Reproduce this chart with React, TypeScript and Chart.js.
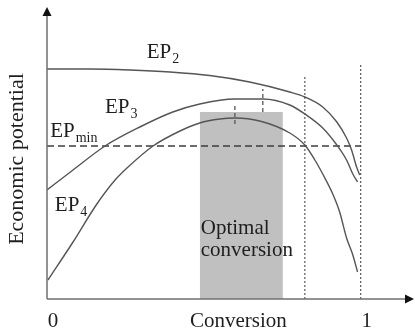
import React, { useEffect, useRef } from 'react';
import { Chart, registerables } from 'chart.js';

Chart.register(...registerables);

// ---- data (conversion 0..1, economic potential in arbitrary units) ----
const ep2Conversion = [0, 0.137, 0.264, 0.392, 0.519, 0.646, 0.774, 0.822, 0.879, 0.924, 0.955, 0.971, 0.987, 0.997];
const ep2Value = [230, 230, 229, 227, 223.5, 217, 207, 202, 192, 177, 161, 149, 132, 124];

const ep3Conversion = [0, 0.083, 0.185, 0.296, 0.401, 0.487, 0.599, 0.688, 0.774, 0.822, 0.879, 0.924, 0.955, 0.975, 0.99];
const ep3Value = [109, 129, 153, 172, 187, 195, 200, 200, 194, 185, 171, 154, 139, 125, 117];

const ep4Conversion = [0.003, 0.083, 0.159, 0.217, 0.255, 0.338, 0.424, 0.487, 0.551, 0.599, 0.678, 0.774, 0.822, 0.854, 0.879, 0.911, 0.933, 0.955, 0.975, 0.99];
const ep4Value = [19, 57, 95, 119, 131, 153, 168, 176, 180, 181, 178, 166, 154, 139, 125, 105, 87, 61, 44, 27];

const epMinConversion = [0, 1];
const epMinValue = [153, 153];

const optimalConversion = [0.487, 0.752];
const optimalValue = [187, 187];

const limitConversionA = [0.822, 0.822];
const limitValueA = [0, 224];
const limitConversionB = [1, 1];
const limitValueB = [0, 236];

const peakMarkerEP4Conversion = [0.599, 0.599];
const peakMarkerEP4Value = [175, 196];
const peakMarkerEP3Conversion = [0.688, 0.688];
const peakMarkerEP3Value = [187, 210];

const xTickValues = [0, 1];
const xTickLabels = ['0', '1'];
const xAxisTitle = 'Conversion';
const yAxisTitle = 'Economic potential';

const toPoints = (xs: number[], ys: number[]) => xs.map((x, i) => ({ x, y: ys[i] }));

const SERIF = '"Liberation Serif", "Times New Roman", serif';
const TEXT = '#1e1e1e';
const CURVE = '#555555';

const annotatePlugin = {
  id: 'annotate',
  afterDatasetsDraw(chart: any) {
    const { ctx, chartArea } = chart;
    const xs = chart.scales.x;
    const ys = chart.scales.y;
    const px = (v: number) => xs.getPixelForValue(v);
    const py = (v: number) => ys.getPixelForValue(v);
    ctx.save();

    // axes
    const x0 = px(0);
    const y0 = py(0);
    ctx.strokeStyle = '#707070';
    ctx.lineWidth = 1.5;
    ctx.beginPath();
    ctx.moveTo(x0, y0);
    ctx.lineTo(x0, chartArea.top + 6);
    ctx.moveTo(x0, y0);
    ctx.lineTo(chartArea.right - 6, y0);
    ctx.stroke();
    ctx.fillStyle = '#111';
    ctx.beginPath();
    ctx.moveTo(x0, chartArea.top);
    ctx.lineTo(x0 - 4.5, chartArea.top + 9);
    ctx.lineTo(x0 + 4.5, chartArea.top + 9);
    ctx.closePath();
    ctx.fill();
    ctx.beginPath();
    ctx.moveTo(chartArea.right, y0);
    ctx.lineTo(chartArea.right - 9, y0 - 4.5);
    ctx.lineTo(chartArea.right - 9, y0 + 4.5);
    ctx.closePath();
    ctx.fill();

    ctx.fillStyle = TEXT;
    ctx.textBaseline = 'alphabetic';

    // x tick labels and title
    ctx.font = `21px ${SERIF}`;
    ctx.textAlign = 'center';
    xTickValues.forEach((v, i) => {
      ctx.fillText(xTickLabels[i], px(v) + 6, y0 + 28);
    });
    ctx.fillText(xAxisTitle, px(0.61), y0 + 28);

    // y title
    ctx.save();
    ctx.translate(23, (chartArea.top + y0) / 2 + 6);
    ctx.rotate(-Math.PI / 2);
    ctx.font = `22px ${SERIF}`;
    ctx.textAlign = 'center';
    ctx.fillText(yAxisTitle, 0, 0);
    ctx.restore();

    // curve labels
    ctx.textAlign = 'left';
    const ep = (sub: string, vx: number, vy: number) => {
      const lx = px(vx);
      const ly = py(vy);
      ctx.font = `21px ${SERIF}`;
      ctx.fillText('EP', lx, ly);
      const w = ctx.measureText('EP').width;
      ctx.font = `14px ${SERIF}`;
      ctx.fillText(sub, lx + w + 1, ly + 5);
    };
    ep('2', 0.318, 241);
    ep('3', 0.185, 186);
    ep('min', 0.01, 162);
    ep('4', 0.025, 88);

    ctx.font = `21px ${SERIF}`;
    ctx.fillText('Optimal', px(0.487) + 1, py(65));
    ctx.fillText('conversion', px(0.487) + 1, py(43));

    ctx.restore();
  },
};

export default function App() {
  const ref = useRef<HTMLCanvasElement | null>(null);

  useEffect(() => {
    if (!ref.current) return;
    const curve = (data: any) => ({
      data,
      borderColor: CURVE,
      borderWidth: 1.4,
      pointRadius: 0,
      fill: false,
      cubicInterpolationMode: 'monotone' as const,
      order: 1,
    });
    const guide = (data: any, dash: number[], color: string, width: number) => ({
      data,
      borderColor: color,
      borderWidth: width,
      borderDash: dash,
      pointRadius: 0,
      fill: false,
      tension: 0,
      order: 2,
    });
    const chart = new Chart(ref.current, {
      type: 'line',
      data: {
        datasets: [
          curve(toPoints(ep2Conversion, ep2Value)),
          curve(toPoints(ep3Conversion, ep3Value)),
          curve(toPoints(ep4Conversion, ep4Value)),
          guide(toPoints(epMinConversion, epMinValue), [7, 4], '#3c3c3c', 1.5),
          guide(toPoints(limitConversionA, limitValueA), [2, 2], '#666', 1.3),
          guide(toPoints(limitConversionB, limitValueB), [2, 2], '#666', 1.3),
          guide(toPoints(peakMarkerEP4Conversion, peakMarkerEP4Value), [4, 3], '#555', 1.3),
          guide(toPoints(peakMarkerEP3Conversion, peakMarkerEP3Value), [4, 3], '#555', 1.3),
          {
            data: toPoints(optimalConversion, optimalValue),
            borderWidth: 0,
            borderColor: 'rgba(0,0,0,0)',
            backgroundColor: '#c0c0c0',
            pointRadius: 0,
            fill: 'origin',
            tension: 0,
            order: 10,
          },
        ],
      },
      options: {
        animation: false,
        responsive: false,
        maintainAspectRatio: false,
        layout: { padding: { left: 47, right: 1, top: 7, bottom: 34 } },
        scales: {
          x: { type: 'linear', min: 0, max: 1.17, display: false },
          y: { type: 'linear', min: 0, max: 292, display: false },
        },
        plugins: {
          legend: { display: false },
          tooltip: { enabled: false },
        },
      },
      plugins: [annotatePlugin],
    });
    return () => chart.destroy();
  }, []);

  return (
    <div style={{ position: 'absolute', left: 0, top: 0, width: 415, height: 333, background: '#fff' }}>
      <canvas ref={ref} width={415} height={333} style={{ width: 415, height: 333, display: 'block' }} />
    </div>
  );
}
